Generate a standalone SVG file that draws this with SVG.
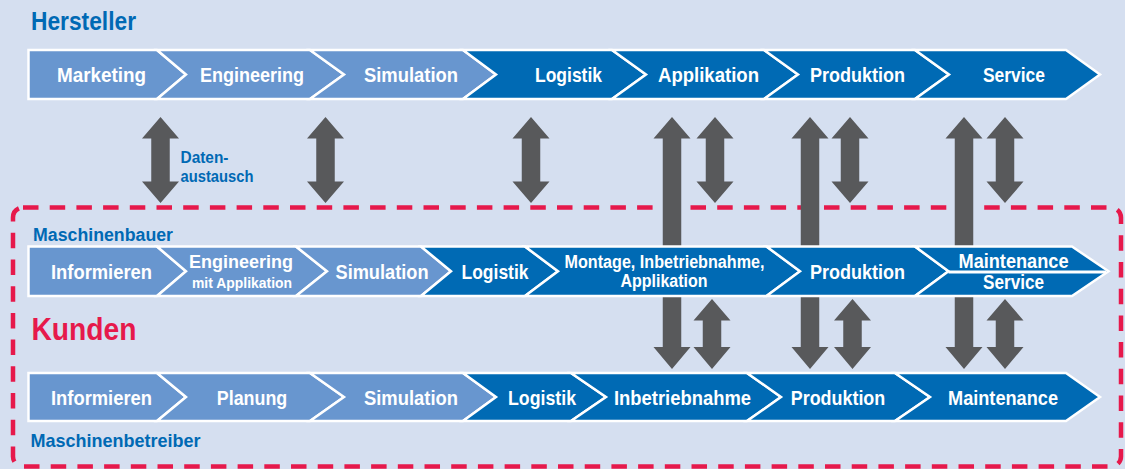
<svg xmlns="http://www.w3.org/2000/svg" width="1125" height="469" viewBox="0 0 1125 469">
  <style>
    .light { fill: #6896cf; stroke: #ffffff; stroke-width: 2.5; stroke-linejoin: miter; }
    .dark { fill: #006ab4; stroke: #ffffff; stroke-width: 2.5; stroke-linejoin: miter; }
    .arrow { fill: #58595b; }
    .lbl { font-family: "Liberation Sans", Arial, sans-serif; font-weight: bold; fill: #ffffff; text-anchor: middle; }
    .big { font-size: 21px; }
    .sub { font-size: 18px; }
    .small { font-size: 14.5px; }
    .head { font-family: "Liberation Sans", Arial, sans-serif; font-weight: bold; fill: #0069b4; }
    .kunden { font-family: "Liberation Sans", Arial, sans-serif; font-weight: bold; fill: #e6194b; }
  </style>

  <!-- background -->
  <rect x="0" y="0" width="1125" height="469" fill="#d5dff0"/>

  <!-- customer frame -->
  <rect id="kunden-frame" x="13" y="207.5" width="1108" height="259" rx="10" ry="10" fill="none" stroke="#e6194b" stroke-width="4.5" stroke-dasharray="15.5 11.2"/>

  <!-- connectors: data exchange arrows -->
  <g id="connectors" class="arrow">
    <!-- Hersteller to Maschinenbauer (double headed) -->
    <polygon points="160.5,117 179,138.5 169.75,138.5 169.75,181.5 179,181.5 160.5,203 142,181.5 151.25,181.5 151.25,138.5 142,138.5"/>
    <polygon points="325.5,117 344,138.5 334.75,138.5 334.75,181.5 344,181.5 325.5,203 307,181.5 316.25,181.5 316.25,138.5 307,138.5"/>
    <polygon points="531,117 549.5,138.5 540.25,138.5 540.25,181.5 549.5,181.5 531,203 512.5,181.5 521.75,181.5 521.75,138.5 512.5,138.5"/>
    <polygon points="715,117 733.5,138.5 724.25,138.5 724.25,181.5 733.5,181.5 715,203 696.5,181.5 705.75,181.5 705.75,138.5 696.5,138.5"/>
    <polygon points="850,117 868.5,138.5 859.25,138.5 859.25,181.5 868.5,181.5 850,203 831.5,181.5 840.75,181.5 840.75,138.5 831.5,138.5"/>
    <polygon points="1005,117 1023.5,138.5 1014.25,138.5 1014.25,181.5 1023.5,181.5 1005,203 986.5,181.5 995.75,181.5 995.75,138.5 986.5,138.5"/>
    <!-- Hersteller through Maschinenbauer to Maschinenbetreiber -->
    <polygon points="672,117 690.5,138.5 681.25,138.5 681.25,347 690.5,347 672,369 653.5,347 662.75,347 662.75,138.5 653.5,138.5"/>
    <polygon points="810,117 828.5,138.5 819.25,138.5 819.25,347 828.5,347 810,369 791.5,347 800.75,347 800.75,138.5 791.5,138.5"/>
    <polygon points="964,117 982.5,138.5 973.25,138.5 973.25,347 982.5,347 964,369 945.5,347 954.75,347 954.75,138.5 945.5,138.5"/>
    <!-- Maschinenbauer to Maschinenbetreiber (double headed) -->
    <polygon points="712,299 730.5,320.5 721.25,320.5 721.25,347 730.5,347 712,369 693.5,347 702.75,347 702.75,320.5 693.5,320.5"/>
    <polygon points="852.5,299 871,320.5 861.75,320.5 861.75,347 871,347 852.5,369 834,347 843.25,347 843.25,320.5 834,320.5"/>
    <polygon points="1005,299 1023.5,320.5 1014.25,320.5 1014.25,347 1023.5,347 1005,369 986.5,347 995.75,347 995.75,320.5 986.5,320.5"/>
  </g>

  <!-- headings -->
  <text id="title-hersteller" class="head" x="31" y="30" font-size="25" textLength="105" lengthAdjust="spacingAndGlyphs">Hersteller</text>
  <g id="label-datenaustausch" class="head" font-size="16.5">
    <text x="180.5" y="162.5" textLength="48" lengthAdjust="spacingAndGlyphs">Daten-</text>
    <text x="180.5" y="181.5" textLength="73" lengthAdjust="spacingAndGlyphs">austausch</text>
  </g>
  <text id="title-maschinenbauer" class="head" x="33" y="241" font-size="18" textLength="140" lengthAdjust="spacingAndGlyphs">Maschinenbauer</text>
  <text id="title-kunden" class="kunden" x="31.5" y="340" font-size="31" textLength="105" lengthAdjust="spacingAndGlyphs">Kunden</text>
  <text id="title-maschinenbetreiber" class="head" x="30.5" y="446.5" font-size="19" textLength="170" lengthAdjust="spacingAndGlyphs">Maschinenbetreiber</text>

  <!-- Hersteller process chain -->
  <g id="hersteller-marketing">
    <polygon class="light" points="28.5,50 157,50 186,74.5 157,99 28.5,99"/>
    <text class="lbl big" x="101.5" y="82" textLength="89" lengthAdjust="spacingAndGlyphs">Marketing</text>
  </g>
  <g id="hersteller-engineering">
    <polygon class="light" points="157,50 310,50 344,74.5 310,99 157,99 186,74.5"/>
    <text class="lbl big" x="252" y="82" textLength="104" lengthAdjust="spacingAndGlyphs">Engineering</text>
  </g>
  <g id="hersteller-simulation">
    <polygon class="light" points="310,50 463,50 496,74.5 463,99 310,99 344,74.5"/>
    <text class="lbl big" x="411" y="82" textLength="94" lengthAdjust="spacingAndGlyphs">Simulation</text>
  </g>
  <g id="hersteller-logistik">
    <polygon class="dark" points="463,50 612,50 646,74.5 612,99 463,99 496,74.5"/>
    <text class="lbl big" x="568.5" y="82" textLength="67" lengthAdjust="spacingAndGlyphs">Logistik</text>
  </g>
  <g id="hersteller-applikation">
    <polygon class="dark" points="612,50 764,50 798,74.5 764,99 612,99 646,74.5"/>
    <text class="lbl big" x="708.5" y="82" textLength="101" lengthAdjust="spacingAndGlyphs">Applikation</text>
  </g>
  <g id="hersteller-produktion">
    <polygon class="dark" points="764,50 915,50 949,74.5 915,99 764,99 798,74.5"/>
    <text class="lbl big" x="857.5" y="82" textLength="95" lengthAdjust="spacingAndGlyphs">Produktion</text>
  </g>
  <g id="hersteller-service">
    <polygon class="dark" points="915,50 1066,50 1100,74.5 1066,99 915,99 949,74.5"/>
    <text class="lbl big" x="1014" y="82" textLength="62" lengthAdjust="spacingAndGlyphs">Service</text>
  </g>

  <!-- Maschinenbauer process chain -->
  <g id="bauer-informieren">
    <polygon class="light" points="28.5,246.5 157,246.5 186,271.25 157,296 28.5,296"/>
    <text class="lbl big" x="101.5" y="279" textLength="101" lengthAdjust="spacingAndGlyphs">Informieren</text>
  </g>
  <g id="bauer-engineering">
    <polygon class="light" points="157,246.5 296,246.5 327,271.25 296,296 157,296 186,271.25"/>
    <text class="lbl sub" x="241" y="268.3" textLength="104" lengthAdjust="spacingAndGlyphs">Engineering</text>
    <text class="lbl small" x="242" y="287.7" textLength="100" lengthAdjust="spacingAndGlyphs">mit Applikation</text>
  </g>
  <g id="bauer-simulation">
    <polygon class="light" points="296,246.5 421,246.5 451,271.25 421,296 296,296 327,271.25"/>
    <text class="lbl big" x="382" y="279" textLength="93" lengthAdjust="spacingAndGlyphs">Simulation</text>
  </g>
  <g id="bauer-logistik">
    <polygon class="dark" points="421,246.5 525,246.5 558,271.25 525,296 421,296 451,271.25"/>
    <text class="lbl big" x="495" y="279" textLength="67" lengthAdjust="spacingAndGlyphs">Logistik</text>
  </g>
  <g id="bauer-montage">
    <polygon class="dark" points="525,246.5 766.5,246.5 800,271.25 766.5,296 525,296 558,271.25"/>
    <text class="lbl sub" x="664.5" y="268" textLength="200" lengthAdjust="spacingAndGlyphs">Montage, Inbetriebnahme,</text>
    <text class="lbl sub" x="664" y="287" textLength="87" lengthAdjust="spacingAndGlyphs">Applikation</text>
  </g>
  <g id="bauer-produktion">
    <polygon class="dark" points="766.5,246.5 915,246.5 948.5,271.25 915,296 766.5,296 800,271.25"/>
    <text class="lbl big" x="857.5" y="279" textLength="95" lengthAdjust="spacingAndGlyphs">Produktion</text>
  </g>
  <g id="bauer-maintenance-service">
    <polygon class="dark" points="915,246.5 1072,246.5 1108.5,271.25 1072,296 915,296 948.5,271.25"/>
    <line x1="948.5" y1="272" x2="1106" y2="272" stroke="#ffffff" stroke-width="2.8"/>
    <text class="lbl big" x="1013.5" y="267.7" textLength="110" lengthAdjust="spacingAndGlyphs">Maintenance</text>
    <text class="lbl big" x="1013.5" y="288.5" textLength="61" lengthAdjust="spacingAndGlyphs">Service</text>
  </g>

  <!-- Maschinenbetreiber process chain -->
  <g id="betreiber-informieren">
    <polygon class="light" points="28.5,373 157,373 186,397 157,421 28.5,421"/>
    <text class="lbl big" x="101.5" y="404.5" textLength="101" lengthAdjust="spacingAndGlyphs">Informieren</text>
  </g>
  <g id="betreiber-planung">
    <polygon class="light" points="157,373 310,373 344,397 310,421 157,421 186,397"/>
    <text class="lbl big" x="252" y="404.5" textLength="70.5" lengthAdjust="spacingAndGlyphs">Planung</text>
  </g>
  <g id="betreiber-simulation">
    <polygon class="light" points="310,373 463,373 496,397 463,421 310,421 344,397"/>
    <text class="lbl big" x="411" y="404.5" textLength="94" lengthAdjust="spacingAndGlyphs">Simulation</text>
  </g>
  <g id="betreiber-logistik">
    <polygon class="dark" points="463,373 571,373 606,397 571,421 463,421 496,397"/>
    <text class="lbl big" x="542" y="404.5" textLength="68" lengthAdjust="spacingAndGlyphs">Logistik</text>
  </g>
  <g id="betreiber-inbetriebnahme">
    <polygon class="dark" points="571,373 747,373 781,397 747,421 571,421 606,397"/>
    <text class="lbl big" x="682.5" y="404.5" textLength="137" lengthAdjust="spacingAndGlyphs">Inbetriebnahme</text>
  </g>
  <g id="betreiber-produktion">
    <polygon class="dark" points="747,373 895,373 930,397 895,421 747,421 781,397"/>
    <text class="lbl big" x="838" y="404.5" textLength="94.5" lengthAdjust="spacingAndGlyphs">Produktion</text>
  </g>
  <g id="betreiber-maintenance">
    <polygon class="dark" points="895,373 1066,373 1100,397 1066,421 895,421 930,397"/>
    <text class="lbl big" x="1003" y="404.5" textLength="110" lengthAdjust="spacingAndGlyphs">Maintenance</text>
  </g>
</svg>
